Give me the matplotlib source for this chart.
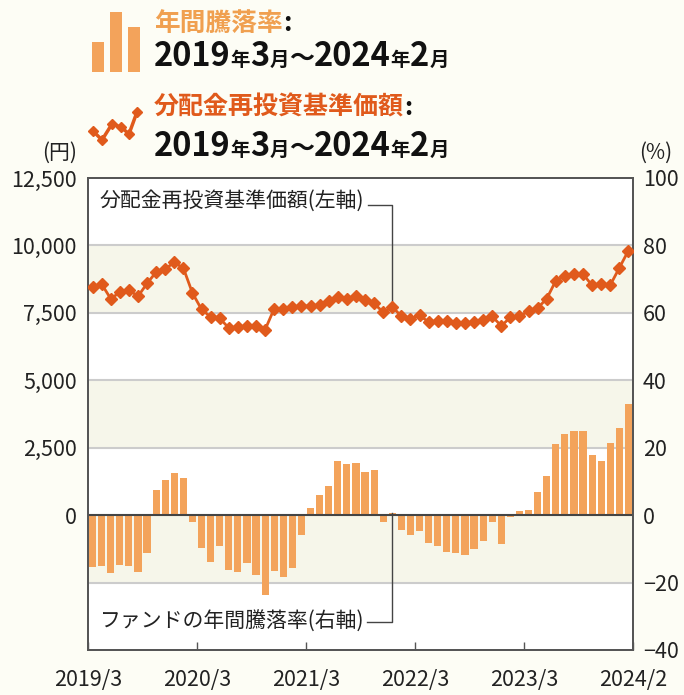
import matplotlib
matplotlib.use('Agg')
import matplotlib.pyplot as plt
from matplotlib.patches import Rectangle
from matplotlib.lines import Line2D

plt.rcParams['font.family'] = ['Noto Sans CJK JP', 'DejaVu Sans']

# monthly data, 2019/3 .. 2024/2
price = [8443, 8568, 8025, 8258, 8357, 8110, 8591, 9012, 9134, 9368,
         9159, 8235, 7630, 7348, 7298, 6940, 6965, 7002, 7015, 6878,
         7655, 7655, 7704, 7754, 7754, 7803, 7939, 8073, 8025, 8136,
         7962, 7850, 7519, 7729, 7370, 7273, 7408, 7162, 7211, 7186,
         7113, 7137, 7162, 7248, 7370, 7015, 7334, 7384, 7556, 7680,
         8025, 8690, 8864, 8949, 8937, 8517, 8568, 8531, 9171, 9811]
rate = [-15.3, -15.0, -17.3, -14.7, -15.0, -16.8, -11.1, 7.6, 10.3, 12.6,
        11.1, -1.9, -9.6, -13.8, -9.3, -16.2, -16.8, -14.1, -17.9, -23.8,
        -16.5, -18.3, -15.8, -6.0, 2.0, 6.1, 8.5, 16.2, 15.3, 15.6,
        12.9, 13.5, -2.1, 0.5, -4.5, -6.0, -4.8, -8.4, -9.3, -11.0,
        -11.3, -11.9, -10.1, -7.8, -2.1, -8.7, -0.5, 1.3, 1.6, 7.0,
        11.7, 21.2, 24.2, 25.1, 25.1, 17.9, 16.2, 21.5, 25.7, 33.1]
xlabels = ['2019/3', '2020/3', '2021/3', '2022/3', '2023/3', '2024/2']
left_ticks = [0, 2500, 5000, 7500, 10000, 12500]
left_labels = ['0', '2,500', '5,000', '7,500', '10,000', '12,500']
right_ticks = [-40, -20, 0, 20, 40, 60, 80, 100]
right_labels = ['\u221240', '\u221220', '0', '20', '40', '60', '80', '100']

BG = '#fdfdf5'
BAND = '#f6f6ea'
BAR = '#f3a35b'
LINE = '#e05a1c'
SPINE = '#555555'
TXT = '#222222'

W, H = 684, 695
fig = plt.figure(figsize=(W / 100, H / 100), dpi=100, facecolor=BG)
ax = fig.add_axes([88 / W, 1 - 650 / H, 545 / W, 472 / H])
ax.set_facecolor('white')
x = list(range(len(rate)))

# bands + grid (percent units)
for lo, hi in [(60, 80), (20, 40), (-20, 0)]:
    ax.axhspan(lo, hi, color=BAND, zorder=0, lw=0)
for g in [-20, 20, 40, 60, 80]:
    ax.axhline(g, color='#cccccc', lw=1.5, zorder=1)

ax.bar(x, rate, width=0.78, color=BAR, zorder=2)
ax.axhline(0, color='#444444', lw=1.5, zorder=3)
ax.set_ylim(-40, 100)
ax.set_xlim(-0.5, len(rate) - 0.5)

tick_pos = [-0.5, 11.5, 23.5, 35.5, 47.5, 59.5]
ax.set_xticks(tick_pos)
ax.set_xticklabels(xlabels)
ax.tick_params(axis='x', direction='in', length=6, width=1, color=SPINE,
               pad=14, labelsize=15.5, labelcolor=TXT)

ax2 = ax.twinx()
ax2.plot(x, price, color=LINE, lw=2, marker='D', markersize=6, zorder=5)
ax2.set_ylim(-5000, 12500)

ax.yaxis.tick_right()
ax.yaxis.set_label_position('right')
ax.set_yticks(right_ticks)
ax.set_yticklabels(right_labels)
ax.tick_params(axis='y', length=0, pad=7, labelsize=15.5, colors=TXT)

ax2.yaxis.tick_left()
ax2.yaxis.set_label_position('left')
ax2.set_yticks(left_ticks)
ax2.set_yticklabels(left_labels)
ax2.tick_params(axis='y', length=0, pad=8, labelsize=15.5, colors=TXT)

for a in (ax, ax2):
    for s in a.spines.values():
        s.set_color(SPINE)
        s.set_linewidth(1.3)

renderer = fig.canvas.get_renderer()

# annotations with leader lines to the 2022/2 point
t1 = ax2.text(0.8, 11650, '分配金再投資基準価額(左軸)', fontsize=15, va='center',
              ha='left', color=TXT)
t2 = ax.text(0.8, -31.6, 'ファンドの年間騰落率(右軸)', fontsize=15, va='center',
             ha='left', color=TXT)
inv = ax.transData.inverted()
end1 = inv.transform((t1.get_window_extent(renderer).x1 + 4, 0))[0]
end2 = inv.transform((t2.get_window_extent(renderer).x1 + 3, 0))[0]
ax2.plot([end1, 33, 33], [11500, 11500, price[33]], color='#444444', lw=1, zorder=4)
ax.plot([end2, 33, 33], [-31.6, -31.6, rate[33]], color='#444444', lw=1, zorder=2.5)

fig.text(60 / W, 1 - 153 / H, '(円)', fontsize=15, ha='center', va='center', color=TXT)
fig.text(656 / W, 1 - 153 / H, '(%)', fontsize=15, ha='center', va='center', color=TXT)

# legend icons
ov = fig.add_axes([0, 0, 1, 1], facecolor='none')
ov.set_xlim(0, W)
ov.set_ylim(H, 0)
ov.axis('off')
for x0, top in [(92, 42), (110, 12), (128, 27)]:
    ov.add_patch(Rectangle((x0, top), 12, 72 - top, color=BAR, lw=0))
ov.add_line(Line2D([93, 102, 112, 121, 129, 137], [131, 140, 124, 127, 134, 112],
                   color=LINE, lw=2.5, marker='D', markersize=5.5))


def put_seq(px, py, pieces):
    for s, size, color in pieces:
        t = fig.text(px / W, 1 - py / H, s, fontsize=size, weight='bold',
                     color=color, ha='left', va='baseline')
        px += t.get_window_extent(renderer).width


period = [('2019', 23.5, '#111111'), ('年', 14, '#111111'), ('3', 23.5, '#111111'),
          ('月', 14, '#111111'), ('～', 18, '#111111'), ('2024', 23.5, '#111111'),
          ('年', 14, '#111111'), ('2', 23.5, '#111111'), ('月', 14, '#111111')]
put_seq(154, 31, [('年間騰落率', 18.5, '#f0a050'), (':', 18.5, '#111111')])
put_seq(154, 66, period)
put_seq(154, 115, [('分配金再投資基準価額', 18, LINE), (':', 18, '#111111')])
put_seq(154, 156, period)

fig.savefig('out.png', dpi=100, facecolor=BG)
